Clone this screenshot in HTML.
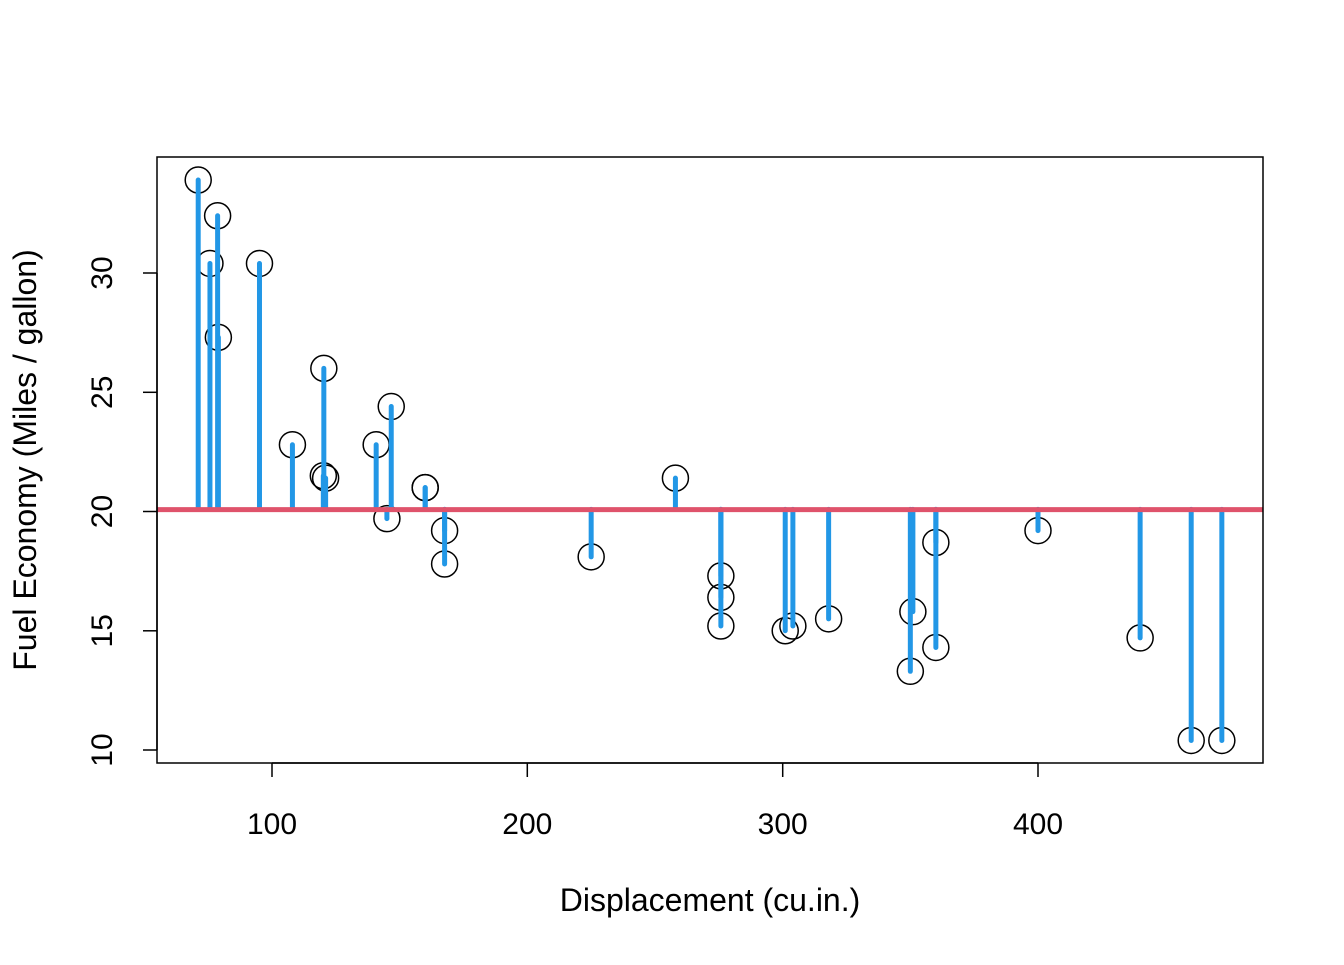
<!DOCTYPE html>
<html><head><meta charset="utf-8"><style>
html,body{margin:0;padding:0;background:#fff}
svg text{font-family:"Liberation Sans",Arial,sans-serif;fill:#000}
</style></head><body>
<svg id="s" width="1344" height="960" xmlns="http://www.w3.org/2000/svg">
<rect x="0" y="0" width="1344" height="960" fill="#fff"/>
<g id="pts"></g>
<g id="segs"></g>
<line x1="157" x2="1263" y1="509.6" y2="509.6" stroke="#DF536B" stroke-width="5"/>
<rect x="157" y="157" width="1106" height="606" fill="none" stroke="#000" stroke-width="1.5"/>
<g stroke="#000" stroke-width="1.5">
<line x1="272" x2="1038" y1="763" y2="763"/>
<line x1="272" x2="272" y1="763" y2="777"/>
<line x1="527.3" x2="527.3" y1="763" y2="777"/>
<line x1="782.7" x2="782.7" y1="763" y2="777"/>
<line x1="1038" x2="1038" y1="763" y2="777"/>
<line x1="157" x2="157" y1="273" y2="750"/>
<line x1="143" x2="157" y1="750" y2="750"/>
<line x1="143" x2="157" y1="630.8" y2="630.8"/>
<line x1="143" x2="157" y1="511.5" y2="511.5"/>
<line x1="143" x2="157" y1="392.3" y2="392.3"/>
<line x1="143" x2="157" y1="273" y2="273"/>
</g>
<g font-size="30" text-anchor="middle">
<text x="272" y="834">100</text>
<text x="527.3" y="834">200</text>
<text x="782.7" y="834">300</text>
<text x="1038" y="834">400</text>
<text transform="translate(112,750) rotate(-90)">10</text>
<text transform="translate(112,630.8) rotate(-90)">15</text>
<text transform="translate(112,511.5) rotate(-90)">20</text>
<text transform="translate(112,392.3) rotate(-90)">25</text>
<text transform="translate(112,273) rotate(-90)">30</text>
</g>
<g font-size="32" text-anchor="middle">
<text x="710" y="911">Displacement (cu.in.)</text>
<text transform="translate(36,460) rotate(-90)">Fuel Economy (Miles / gallon)</text>
</g>
</svg>
<script>
var d=[[21,160],[21,160],[22.8,108],[21.4,258],[18.7,360],[18.1,225],[14.3,360],[24.4,146.7],[22.8,140.8],[19.2,167.6],[17.8,167.6],[16.4,275.8],[17.3,275.8],[15.2,275.8],[10.4,472],[10.4,460],[14.7,440],[32.4,78.7],[30.4,75.7],[33.9,71.1],[21.5,120.1],[15.5,318],[15.2,304],[13.3,350],[19.2,400],[27.3,79],[26,120.3],[30.4,95.1],[15.8,351],[19.7,145],[15,301],[21.4,121]];
var ns="http://www.w3.org/2000/svg",P=document.getElementById("pts"),S=document.getElementById("segs");
var m=0;d.forEach(function(p){m+=p[0]});m/=d.length;
function X(v){return 272+(v-100)*2.55333}function Y(v){return 750-(v-10)*23.85}
d.forEach(function(p){
var c=document.createElementNS(ns,"circle");c.setAttribute("cx",X(p[1]));c.setAttribute("cy",Y(p[0]));c.setAttribute("r",13);c.setAttribute("fill","none");c.setAttribute("stroke","#000");c.setAttribute("stroke-width","1.5");P.appendChild(c);
var l=document.createElementNS(ns,"line");l.setAttribute("x1",X(p[1]));l.setAttribute("x2",X(p[1]));l.setAttribute("y1",Y(m));l.setAttribute("y2",Y(p[0]));l.setAttribute("stroke","#2297E6");l.setAttribute("stroke-width","5");l.setAttribute("stroke-linecap","round");S.appendChild(l);
});
</script>
</body></html>
